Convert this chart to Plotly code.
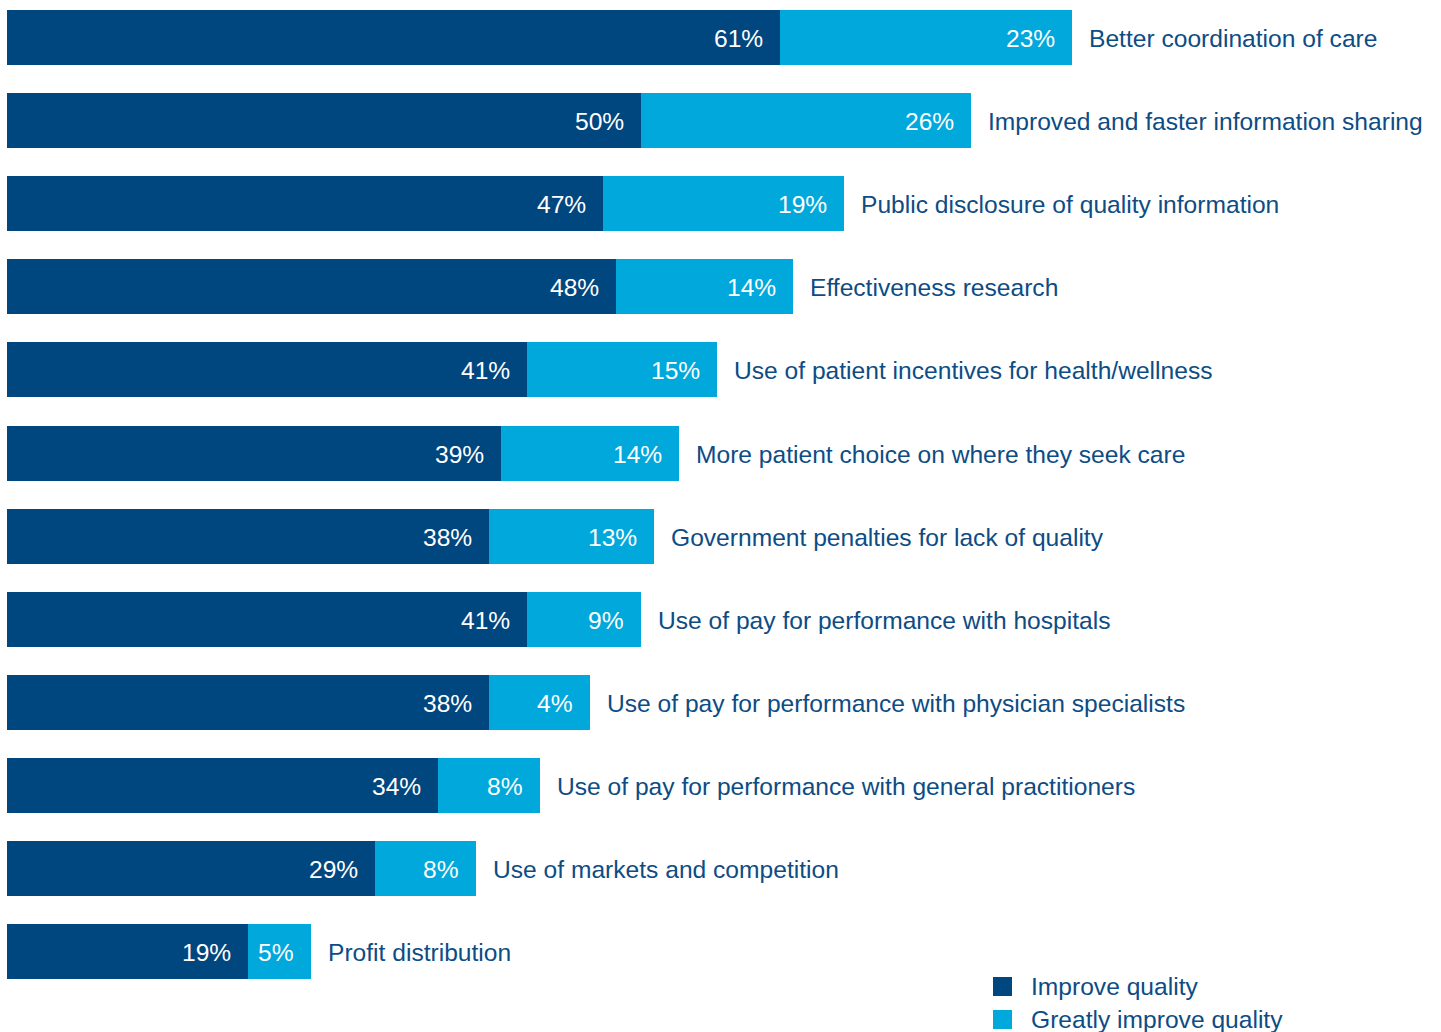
import plotly.graph_objects as go

categories = [
    "Better coordination of care",
    "Improved and faster information sharing",
    "Public disclosure of quality information",
    "Effectiveness research",
    "Use of patient incentives for health/wellness",
    "More patient choice on where they seek care",
    "Government penalties for lack of quality",
    "Use of pay for performance with hospitals",
    "Use of pay for performance with physician specialists",
    "Use of pay for performance with general practitioners",
    "Use of markets and competition",
    "Profit distribution",
]
# bar lengths as drawn in the picture (%)
improve = [61, 50, 47, 48, 41, 39, 38, 41, 38, 34, 29, 19]
greatly = [23, 26, 19, 14, 15, 14, 13, 9, 8, 8, 8, 5]
# value labels as printed in the picture (the specialists bar is labelled 4%)
improve_labels = ["61%", "50%", "47%", "48%", "41%", "39%", "38%", "41%", "38%", "34%", "29%", "19%"]
greatly_labels = ["23%", "26%", "19%", "14%", "15%", "14%", "13%", "9%", "4%", "8%", "8%", "5%"]
series_names = ["Improve quality", "Greatly improve quality"]

DARK = "#00467F"
LIGHT = "#00A8DC"
TEXT = "#0D4C84"
FONT = "Helvetica Neue, Arial, Liberation Sans, sans-serif"
FS = 24.6
W, H, ML = 1441, 1032, 7

fig = go.Figure()
fig.add_trace(go.Bar(y=categories, x=improve, orientation="h", marker=dict(color=DARK, line=dict(width=0)),
                     name=series_names[0], showlegend=False, hoverinfo="x+y"))
fig.add_trace(go.Bar(y=categories, x=greatly, orientation="h", marker=dict(color=LIGHT, line=dict(width=0)),
                     name=series_names[1], showlegend=False, hoverinfo="x+y"))

annotations = []
for cat, a, b, la, lb in zip(categories, improve, greatly, improve_labels, greatly_labels):
    annotations.append(dict(x=a, y=cat, text=la, xanchor="right", xshift=-15, yshift=-1, showarrow=False,
                            font=dict(family=FONT, size=FS, color="white")))
    annotations.append(dict(x=a + b, y=cat, text=lb, xanchor="right", xshift=-15, yshift=-1, showarrow=False,
                            font=dict(family=FONT, size=FS, color="white")))
    annotations.append(dict(x=a + b, y=cat, text=cat, xanchor="left", xshift=15, yshift=-1, showarrow=False,
                            font=dict(family=FONT, size=FS, color=TEXT)))

# legend (drawn as key squares + labels, bottom right)
def px_x(p):
    return (p - ML) / (W - ML)

def px_y(p):
    return 1 - p / H

shapes = []
for i, (nm, col) in enumerate(zip(series_names, [DARK, LIGHT])):
    top = 977 + i * 33
    shapes.append(dict(type="rect", xref="paper", yref="paper",
                       x0=px_x(993), x1=px_x(1012), y0=px_y(top + 19), y1=px_y(top),
                       fillcolor=col, line=dict(width=0)))
    annotations.append(dict(xref="paper", yref="paper", x=px_x(1029), y=px_y(top + 9.5),
                            text=nm, xanchor="left", yanchor="middle", showarrow=False,
                            font=dict(family=FONT, size=FS, color=TEXT)))

fig.update_layout(
    width=W, height=H,
    barmode="stack", bargap=0.338,
    margin=dict(l=ML, r=0, t=0, b=0),
    paper_bgcolor="white", plot_bgcolor="white",
    xaxis=dict(range=[0, 113.1], visible=False, fixedrange=True),
    yaxis=dict(type="category", range=[11.967, -0.451], visible=False, fixedrange=True),
    annotations=annotations,
    shapes=shapes,
    showlegend=False,
    font=dict(family=FONT),
)

fig.write_html("out.html", config={"displayModeBar": False},
               post_script="document.body.style.margin='0';")
